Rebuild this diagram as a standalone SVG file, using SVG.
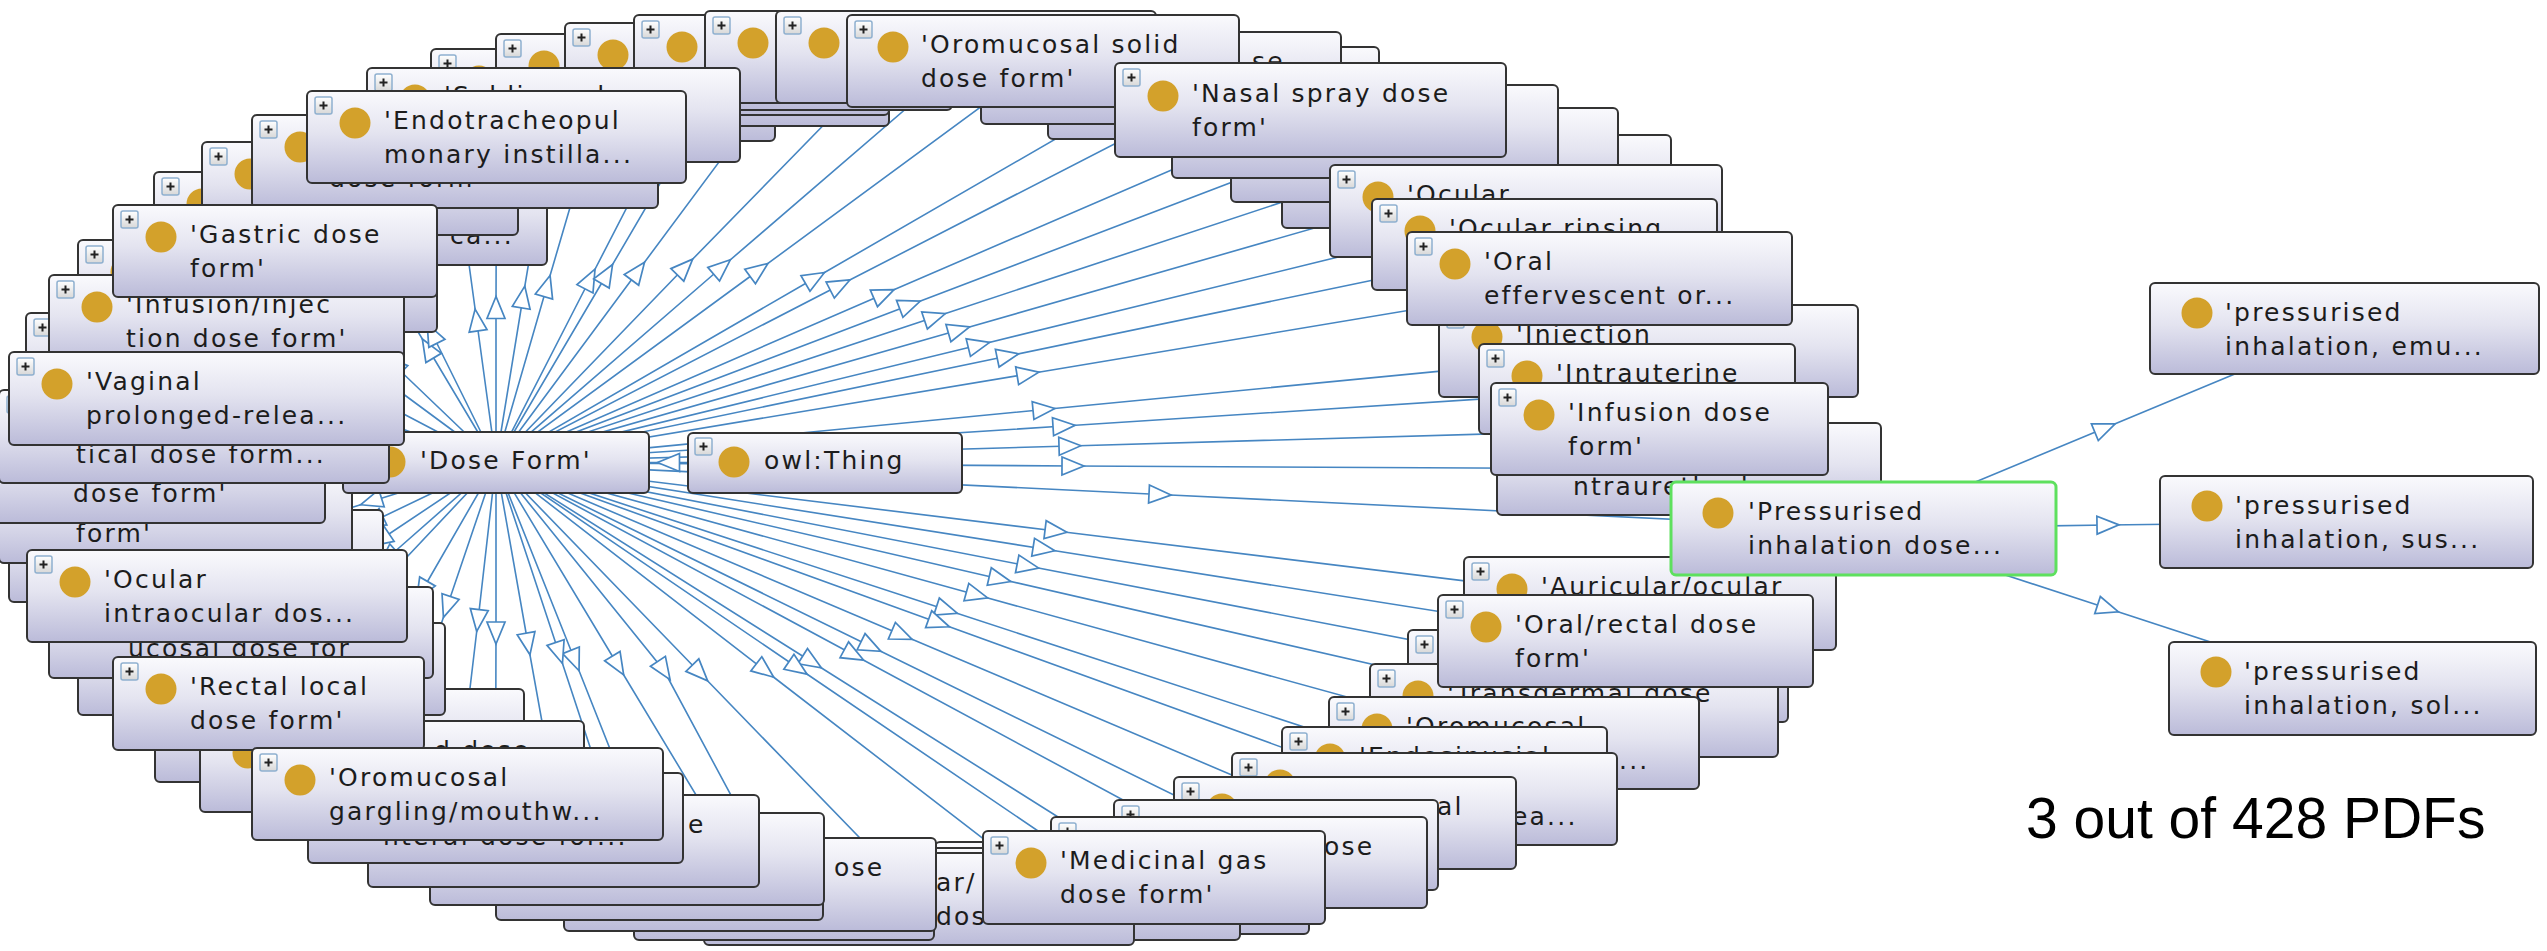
<svg xmlns="http://www.w3.org/2000/svg" xmlns:xlink="http://www.w3.org/1999/xlink" width="2547" height="951" viewBox="0 0 2547 951">
<style>
.b{fill:url(#g);stroke:#333;stroke-width:2}
.sel{fill:url(#g);stroke:#5ee05e;stroke-width:3}
.d{fill:#d3a12b}
.t{font-family:"DejaVu Sans","Liberation Sans",sans-serif;font-size:25px;letter-spacing:2.2px;fill:#1c1c1c}
.e path{fill:none;stroke:#4686c2;stroke-width:1.6;marker-mid:url(#tri)}
.lbl{font-family:"Liberation Sans",Arial,sans-serif;font-size:57px;fill:#000}
</style>
<defs>
<linearGradient id="g" x1="0" y1="0" x2="0" y2="1"><stop offset="0" stop-color="#fafafd"/><stop offset="0.45" stop-color="#e4e4f0"/><stop offset="1" stop-color="#bbbbd9"/></linearGradient>
<linearGradient id="pg" x1="0" y1="0" x2="0" y2="1"><stop offset="0" stop-color="#ffffff"/><stop offset="1" stop-color="#d8d8d8"/></linearGradient>
<marker id="tri" markerUnits="userSpaceOnUse" markerWidth="30" markerHeight="30" viewBox="-15 -15 30 30" refX="0" refY="0" orient="auto"><path d="M11,0 L-11,-9 L-11,9 Z" fill="#fff" stroke="#4686c2" stroke-width="1.7"/></marker>
<g id="pl"><rect width="17" height="17" rx="2" fill="url(#pg)" stroke="#8fb0cf" stroke-width="1.5"/><path d="M4.5 8.5h8M8.5 4.5v8" stroke="#222" stroke-width="2"/></g>
</defs>
<rect width="2547" height="951" fill="#fff"/>
<g id="connectors" class="e">
<path d="M496 462.5L547 286L603 95"/>
<path d="M496 462.5L590 279L692.5 80"/>
<path d="M496 462.5L607 274L727 69"/>
<path d="M496 462.5L638 271L793 62.5"/>
<path d="M496 462.5L685 267L890 57"/>
<path d="M496 462.5L722 267L966 57"/>
<path d="M496 462.5L759 270L1043 61"/>
<path d="M496 462.5L815 278L1161 78"/>
<path d="M496 462.5L840 285L1213.5 93"/>
<path d="M496 462.5L884 294L1310.5 110"/>
<path d="M496 462.5L910 305L1365 131.5"/>
<path d="M496 462.5L935 317L1424.5 155"/>
<path d="M496 462.5L959 330L1476.5 181.5"/>
<path d="M496 462.5L979 345L1526 211"/>
<path d="M496 462.5L1008 356L1544.5 244.5"/>
<path d="M496 462.5L1028 374L1599.5 278.5"/>
<path d="M496 462.5L1044 409.5L1648.5 351"/>
<path d="M496 462.5L1064 426L1637 389"/>
<path d="M496 462.5L1070 446L1659.5 429"/>
<path d="M496 462.5L1073 466L1689 469"/>
<path d="M496 462.5L1160 494.5L1863.5 528.5"/>
<path d="M496 462.5L1056 531L1650 603.5"/>
<path d="M496 462.5L1044 549L1625.5 641"/>
<path d="M496 462.5L1028 566L1598 676"/>
<path d="M496 462.5L1000 579L1574 710.5"/>
<path d="M496 462.5L977 595L1514 743"/>
<path d="M496 462.5L947 610L1444.5 773"/>
<path d="M496 462.5L939 623L1424.5 799"/>
<path d="M496 462.5L902 635L1345 823"/>
<path d="M496 462.5L871 646.5L1276 845"/>
<path d="M496 462.5L854 655L1239 862.5"/>
<path d="M496 462.5L812 662L1154 877.5"/>
<path d="M496 462.5L798 668L1122 888"/>
<path d="M496 462.5L765 670.5L1055 894"/>
<path d="M496 462.5L700 673L919 899"/>
<path d="M496 462.5L664 670.5L784 894"/>
<path d="M496 462.5L618 665.5L750 884.5"/>
<path d="M496 462.5L575 660.5L659.5 874"/>
<path d="M496 462.5L559 653L627 859"/>
<path d="M496 462.5L528 644L563.5 841"/>
<path d="M496 462.5L496 633L495.5 818"/>
<path d="M496 462.5L478 620.5L457.5 794"/>
<path d="M496 462.5L447 607L392 766.5"/>
<path d="M496 462.5L422 591L339.5 735.5"/>
<path d="M496 462.5L390 575L268.5 703.5"/>
<path d="M496 462.5L387.5 558L261.5 669"/>
<path d="M496 462.5L380 540L241 632.5"/>
<path d="M496 462.5L373 521.5L217 596"/>
<path d="M496 462.5L371 501.5L196 556"/>
<path d="M496 462.5L175.5 516.5"/>
<path d="M496 462.5L160.5 476.5"/>
<path d="M496 462.5L194 436.5"/>
<path d="M496 462.5L206.5 398.5"/>
<path d="M496 462.5L373 418.5L206 359"/>
<path d="M496 462.5L377 400L226.5 321.5"/>
<path d="M496 462.5L387 382L257.5 286"/>
<path d="M496 462.5L393.6 364.5L275 251"/>
<path d="M496 462.5L428 348.5L350.5 218.5"/>
<path d="M496 462.5L432 333.5L360 188.5"/>
<path d="M496 462.5L476.6 320L455 161.5"/>
<path d="M496 462.5L523 297L553.5 115"/>
<path d="M496 462.5L496 307.5L496.5 137"/>
<path d="M825 462.5L668.5 462.5L496 462.5"/>
<path d="M1863.5 528.5L2105 428L2344.5 328.5"/>
<path d="M1863.5 528.5L2108 525L2346.5 522"/>
<path d="M1863.5 528.5L2108 608.5L2352.5 688.5"/>
</g>

<g id="n-a" transform="translate(431,49)"><rect class="b" width="344" height="92" rx="5"/><use href="#pl" x="8" y="6"/><circle class="d" cx="48" cy="32" r="15.5"/></g>
<g id="n-b" transform="translate(496,34)"><rect class="b" width="393" height="92" rx="5"/><use href="#pl" x="8" y="6"/><circle class="d" cx="48" cy="32" r="15.5"/></g>
<g id="n-c" transform="translate(565,23)"><rect class="b" width="324" height="92" rx="5"/><use href="#pl" x="8" y="6"/><circle class="d" cx="48" cy="32" r="15.5"/></g>
<g id="n-d" transform="translate(634,15)"><rect class="b" width="318" height="95" rx="5"/><use href="#pl" x="8" y="6"/><circle class="d" cx="48" cy="32" r="15.5"/></g>
<g id="n-e" transform="translate(705,11)"><rect class="b" width="370" height="92" rx="5"/><use href="#pl" x="8" y="6"/><circle class="d" cx="48" cy="32" r="15.5"/></g>
<g id="n-f" transform="translate(776,11)"><rect class="b" width="380" height="92" rx="5"/><use href="#pl" x="8" y="6"/><circle class="d" cx="48" cy="32" r="15.5"/></g>
<g id="n-s2" transform="translate(1048,47)"><rect class="b" width="331" height="92" rx="5"/><use href="#pl" x="8" y="6"/><circle class="d" cx="48" cy="32" r="15.5"/></g>
<g id="n-s1" transform="translate(981,32)"><rect class="b" width="360" height="92" rx="5"/><use href="#pl" x="8" y="6"/><circle class="d" cx="48" cy="32" r="15.5"/><text class="t" x="271" y="38">se</text></g>
<g id="n-oromucosal-solid" transform="translate(847,15)"><rect class="b" width="392" height="92" rx="5"/><use href="#pl" x="8" y="6"/><circle class="d" cx="46" cy="32" r="15.5"/><text class="t"><tspan x="74" y="38">'Oromucosal solid</tspan><tspan x="74" y="72">dose form'</tspan></text></g>
<g id="n-n3" transform="translate(1282,135)"><rect class="b" width="389" height="93" rx="5"/><use href="#pl" x="8" y="6"/><circle class="d" cx="48" cy="32" r="15.5"/></g>
<g id="n-n2" transform="translate(1231,108)"><rect class="b" width="387" height="94" rx="5"/><use href="#pl" x="8" y="6"/><circle class="d" cx="48" cy="32" r="15.5"/></g>
<g id="n-n1" transform="translate(1172,85)"><rect class="b" width="386" height="93" rx="5"/><use href="#pl" x="8" y="6"/><circle class="d" cx="48" cy="32" r="15.5"/></g>
<g id="n-nasal" transform="translate(1115,63)"><rect class="b" width="391" height="94" rx="5"/><use href="#pl" x="8" y="6"/><circle class="d" cx="48" cy="33" r="15.5"/><text class="t"><tspan x="77" y="39">'Nasal spray dose</tspan><tspan x="77" y="73">form'</tspan></text></g>
<g id="n-ocular" transform="translate(1330,165)"><rect class="b" width="392" height="92" rx="5"/><use href="#pl" x="8" y="6"/><circle class="d" cx="48" cy="32" r="15.5"/><text class="t" x="77" y="38">'Ocular</text></g>
<g id="n-ocular-rinsing" transform="translate(1372,199)"><rect class="b" width="345" height="91" rx="5"/><use href="#pl" x="8" y="6"/><circle class="d" cx="48" cy="32" r="15.5"/><text class="t" x="77" y="38">'Ocular rinsing</text></g>
<g id="n-injection" transform="translate(1439,305)"><rect class="b" width="419" height="92" rx="5"/><use href="#pl" x="8" y="6"/><circle class="d" cx="48" cy="32" r="15.5"/><text class="t" x="77" y="38">'Injection</text></g>
<g id="n-oral-eff" transform="translate(1407,232)"><rect class="b" width="385" height="93" rx="5"/><use href="#pl" x="8" y="6"/><circle class="d" cx="48" cy="32" r="15.5"/><text class="t"><tspan x="77" y="38">'Oral</tspan><tspan x="77" y="72">effervescent or...</tspan></text></g>
<g id="n-intraurethral" transform="translate(1497,423)"><rect class="b" width="384" height="92" rx="5"/><use href="#pl" x="8" y="6"/><circle class="d" cx="48" cy="32" r="15.5"/><text class="t" x="76" y="72">ntraurethral</text></g>
<g id="n-intrauterine" transform="translate(1479,344)"><rect class="b" width="316" height="90" rx="5"/><use href="#pl" x="8" y="6"/><circle class="d" cx="48" cy="32" r="15.5"/><text class="t" x="77" y="38">'Intrauterine</text></g>
<g id="n-infusion" transform="translate(1491,383)"><rect class="b" width="337" height="92" rx="5"/><use href="#pl" x="8" y="6"/><circle class="d" cx="48" cy="32" r="15.5"/><text class="t"><tspan x="77" y="38">'Infusion dose</tspan><tspan x="77" y="72">form'</tspan></text></g>
<g id="n-r1" transform="translate(1408,630)"><rect class="b" width="380" height="92" rx="5"/><use href="#pl" x="8" y="6"/><circle class="d" cx="48" cy="32" r="15.5"/></g>
<g id="n-auricular" transform="translate(1464,557)"><rect class="b" width="372" height="93" rx="5"/><use href="#pl" x="8" y="6"/><circle class="d" cx="48" cy="32" r="15.5"/><text class="t" x="77" y="38">'Auricular/ocular</text></g>
<g id="n-transdermal" transform="translate(1370,664)"><rect class="b" width="408" height="93" rx="5"/><use href="#pl" x="8" y="6"/><circle class="d" cx="48" cy="32" r="15.5"/><text class="t" x="77" y="38">'Transdermal dose</text></g>
<g id="n-oromucosal2" transform="translate(1329,697)"><rect class="b" width="370" height="92" rx="5"/><use href="#pl" x="8" y="6"/><circle class="d" cx="48" cy="32" r="15.5"/><text class="t"><tspan x="77" y="38">'Oromucosal</tspan><tspan x="290" y="72">...</tspan></text></g>
<g id="n-endosinusial" transform="translate(1282,727)"><rect class="b" width="325" height="92" rx="5"/><use href="#pl" x="8" y="6"/><circle class="d" cx="48" cy="32" r="15.5"/><text class="t" x="77" y="38">'Endosinusial</text></g>
<g id="n-br1" transform="translate(1232,753)"><rect class="b" width="385" height="92" rx="5"/><use href="#pl" x="8" y="6"/><circle class="d" cx="48" cy="32" r="15.5"/><text class="t" x="280" y="72">ea...</text></g>
<g id="n-br2" transform="translate(1174,777)"><rect class="b" width="342" height="92" rx="5"/><use href="#pl" x="8" y="6"/><circle class="d" cx="48" cy="32" r="15.5"/><text class="t" x="263" y="38">al</text></g>
<g id="n-br3" transform="translate(1114,800)"><rect class="b" width="324" height="90" rx="5"/><use href="#pl" x="8" y="6"/><circle class="d" cx="48" cy="32" r="15.5"/></g>
<g id="n-br4" transform="translate(1051,817)"><rect class="b" width="376" height="91" rx="5"/><use href="#pl" x="8" y="6"/><circle class="d" cx="48" cy="32" r="15.5"/><text class="t" x="273" y="38">ose</text></g>
<g id="n-oral-rectal" transform="translate(1438,595)"><rect class="b" width="375" height="92" rx="5"/><use href="#pl" x="8" y="6"/><circle class="d" cx="48" cy="32" r="15.5"/><text class="t"><tspan x="77" y="38">'Oral/rectal dose</tspan><tspan x="77" y="72">form'</tspan></text></g>
<g id="n-h3" transform="translate(935,842)"><rect class="b" width="374" height="92" rx="5"/><use href="#pl" x="8" y="6"/><circle class="d" cx="48" cy="32" r="15.5"/></g>
<g id="n-h2" transform="translate(870,848)"><rect class="b" width="370" height="92" rx="5"/><use href="#pl" x="8" y="6"/><circle class="d" cx="48" cy="32" r="15.5"/></g>
<g id="n-b7" transform="translate(704,853)"><rect class="b" width="430" height="92" rx="5"/><use href="#pl" x="8" y="6"/><circle class="d" cx="48" cy="32" r="15.5"/><text class="t"><tspan x="232" y="38">ar/</tspan><tspan x="232" y="72">dos</tspan></text></g>
<g id="n-b6" transform="translate(634,848)"><rect class="b" width="300" height="92" rx="5"/><use href="#pl" x="8" y="6"/><circle class="d" cx="48" cy="32" r="15.5"/></g>
<g id="n-b5" transform="translate(564,838)"><rect class="b" width="372" height="93" rx="5"/><use href="#pl" x="8" y="6"/><circle class="d" cx="48" cy="32" r="15.5"/><text class="t" x="270" y="38">ose</text></g>
<g id="n-medicinal" transform="translate(983,831)"><rect class="b" width="342" height="93" rx="5"/><use href="#pl" x="8" y="6"/><circle class="d" cx="48" cy="32" r="15.5"/><text class="t"><tspan x="77" y="38">'Medicinal gas</tspan><tspan x="77" y="72">dose form'</tspan></text></g>
<g id="n-b4" transform="translate(496,828)"><rect class="b" width="327" height="92" rx="5"/><use href="#pl" x="8" y="6"/><circle class="d" cx="48" cy="32" r="15.5"/></g>
<g id="n-b3" transform="translate(430,813)"><rect class="b" width="394" height="92" rx="5"/><use href="#pl" x="8" y="6"/><circle class="d" cx="48" cy="32" r="15.5"/></g>
<g id="n-b2" transform="translate(368,795)"><rect class="b" width="391" height="92" rx="5"/><use href="#pl" x="8" y="6"/><circle class="d" cx="48" cy="32" r="15.5"/><text class="t" x="320" y="38">e</text></g>
<g id="n-b1" transform="translate(308,773)"><rect class="b" width="375" height="90" rx="5"/><use href="#pl" x="8" y="6"/><circle class="d" cx="48" cy="32" r="15.5"/><text class="t" x="75" y="72">nteral dose for...</text></g>
<g id="n-l10" transform="translate(155,689)"><rect class="b" width="369" height="93" rx="5"/><use href="#pl" x="8" y="6"/><circle class="d" cx="48" cy="32" r="15.5"/></g>
<g id="n-l9" transform="translate(78,623)"><rect class="b" width="367" height="92" rx="5"/><use href="#pl" x="8" y="6"/><circle class="d" cx="48" cy="32" r="15.5"/></g>
<g id="n-l8" transform="translate(49,587)"><rect class="b" width="384" height="91" rx="5"/><use href="#pl" x="8" y="6"/><circle class="d" cx="48" cy="32" r="15.5"/><text class="t" x="79" y="70">ucosal dose for</text></g>
<g id="n-l6" transform="translate(9,510)"><rect class="b" width="374" height="92" rx="5"/><use href="#pl" x="8" y="6"/><circle class="d" cx="48" cy="32" r="15.5"/></g>
<g id="n-l5" transform="translate(-1,470)"><rect class="b" width="353" height="93" rx="5"/><use href="#pl" x="8" y="6"/><circle class="d" cx="48" cy="32" r="15.5"/><text class="t" x="77" y="72">form'</text></g>
<g id="n-l4" transform="translate(-4,430)"><rect class="b" width="329" height="93" rx="5"/><use href="#pl" x="8" y="6"/><circle class="d" cx="48" cy="32" r="15.5"/><text class="t" x="77" y="72">dose form'</text></g>
<g id="n-dose-form" transform="translate(343,432)"><rect class="b" width="306" height="61" rx="5"/><use href="#pl" x="8" y="6"/><circle class="d" cx="47" cy="30" r="15.5"/><text class="t" x="77" y="37">'Dose Form'</text></g>
<g id="n-l3" transform="translate(-1,390)"><rect class="b" width="390" height="93" rx="5"/><use href="#pl" x="8" y="6"/><circle class="d" cx="48" cy="32" r="15.5"/><text class="t" x="77" y="73">tical dose form...</text></g>
<g id="n-ocular-intraocular" transform="translate(27,550)"><rect class="b" width="380" height="92" rx="5"/><use href="#pl" x="8" y="6"/><circle class="d" cx="48" cy="32" r="15.5"/><text class="t"><tspan x="77" y="38">'Ocular</tspan><tspan x="77" y="72">intraocular dos...</tspan></text></g>
<g id="n-l11" transform="translate(200,721)"><rect class="b" width="384" height="91" rx="5"/><use href="#pl" x="8" y="6"/><circle class="d" cx="48" cy="32" r="15.5"/><text class="t" x="234" y="38">d dose</text></g>
<g id="n-rectal" transform="translate(113,657)"><rect class="b" width="311" height="93" rx="5"/><use href="#pl" x="8" y="6"/><circle class="d" cx="48" cy="32" r="15.5"/><text class="t"><tspan x="77" y="38">'Rectal local</tspan><tspan x="77" y="72">dose form'</tspan></text></g>
<g id="n-gargling" transform="translate(252,748)"><rect class="b" width="411" height="92" rx="5"/><use href="#pl" x="8" y="6"/><circle class="d" cx="48" cy="32" r="15.5"/><text class="t"><tspan x="77" y="38">'Oromucosal</tspan><tspan x="77" y="72">gargling/mouthw...</tspan></text></g>
<g id="n-l2" transform="translate(26,313)"><rect class="b" width="360" height="92" rx="5"/><use href="#pl" x="8" y="6"/><circle class="d" cx="48" cy="32" r="15.5"/></g>
<g id="n-l1" transform="translate(78,240)"><rect class="b" width="359" height="92" rx="5"/><use href="#pl" x="8" y="6"/><circle class="d" cx="48" cy="32" r="15.5"/></g>
<g id="n-infusion-injection" transform="translate(49,275)"><rect class="b" width="355" height="93" rx="5"/><use href="#pl" x="8" y="6"/><circle class="d" cx="48" cy="32" r="15.5"/><text class="t"><tspan x="77" y="38">'Infusion/injec</tspan><tspan x="77" y="72">tion dose form'</tspan></text></g>
<g id="n-vaginal" transform="translate(9,352)"><rect class="b" width="395" height="93" rx="5"/><use href="#pl" x="8" y="6"/><circle class="d" cx="48" cy="32" r="15.5"/><text class="t"><tspan x="77" y="38">'Vaginal</tspan><tspan x="77" y="72">prolonged-relea...</tspan></text></g>
<g id="n-p1" transform="translate(154,172)"><rect class="b" width="393" height="93" rx="5"/><use href="#pl" x="8" y="6"/><circle class="d" cx="48" cy="32" r="15.5"/><text class="t" x="296" y="72">ca...</text></g>
<g id="n-p2" transform="translate(202,142)"><rect class="b" width="316" height="93" rx="5"/><use href="#pl" x="8" y="6"/><circle class="d" cx="48" cy="32" r="15.5"/></g>
<g id="n-p3" transform="translate(252,115)"><rect class="b" width="406" height="93" rx="5"/><use href="#pl" x="8" y="6"/><circle class="d" cx="48" cy="32" r="15.5"/><text class="t" x="77" y="72">dose form'</text></g>
<g id="n-gastric" transform="translate(113,205)"><rect class="b" width="324" height="92" rx="5"/><use href="#pl" x="8" y="6"/><circle class="d" cx="48" cy="32" r="15.5"/><text class="t"><tspan x="77" y="38">'Gastric dose</tspan><tspan x="77" y="72">form'</tspan></text></g>
<g id="n-sublingual" transform="translate(367,68)"><rect class="b" width="373" height="94" rx="5"/><use href="#pl" x="8" y="6"/><circle class="d" cx="48" cy="32" r="15.5"/><text class="t" x="77" y="36">'Sublingual</text></g>
<g id="n-endotracheopul" transform="translate(307,91)"><rect class="b" width="379" height="92" rx="5"/><use href="#pl" x="8" y="6"/><circle class="d" cx="48" cy="32" r="15.5"/><text class="t"><tspan x="77" y="38">'Endotracheopul</tspan><tspan x="77" y="72">monary instilla...</tspan></text></g>
<g id="n-owl-thing" transform="translate(688,433)"><rect class="b" width="274" height="60" rx="5"/><use href="#pl" x="7" y="5"/><circle class="d" cx="46" cy="29" r="15.5"/><text class="t" x="76" y="36">owl:Thing</text></g>
<g id="n-pressurised" transform="translate(1671,482)"><rect class="sel" width="385" height="93" rx="5"/><circle class="d" cx="47" cy="31" r="15.5"/><text class="t"><tspan x="77" y="38">'Pressurised</tspan><tspan x="77" y="72">inhalation dose...</tspan></text></g>
<g id="n-emu" transform="translate(2150,283)"><rect class="b" width="389" height="91" rx="5"/><circle class="d" cx="47" cy="30" r="15.5"/><text class="t"><tspan x="75" y="38">'pressurised</tspan><tspan x="75" y="72">inhalation, emu...</tspan></text></g>
<g id="n-sus" transform="translate(2160,476)"><rect class="b" width="373" height="92" rx="5"/><circle class="d" cx="47" cy="30" r="15.5"/><text class="t"><tspan x="75" y="38">'pressurised</tspan><tspan x="75" y="72">inhalation, sus...</tspan></text></g>
<g id="n-sol" transform="translate(2169,642)"><rect class="b" width="367" height="93" rx="5"/><circle class="d" cx="47" cy="30" r="15.5"/><text class="t"><tspan x="75" y="38">'pressurised</tspan><tspan x="75" y="72">inhalation, sol...</tspan></text></g>
<text id="caption" class="lbl" x="2026" y="838">3 out of 428 PDFs</text>
</svg>
